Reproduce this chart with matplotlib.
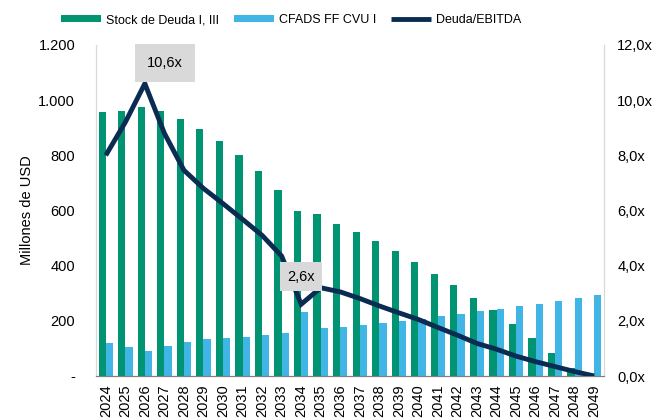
import matplotlib
matplotlib.use("Agg")
import matplotlib.pyplot as plt
import numpy as np
from matplotlib.ticker import FuncFormatter, FixedLocator

years = [str(y) for y in range(2024, 2050)]
stock_deuda = [958, 961, 975, 961, 931, 896, 851, 800, 742, 674, 598, 587, 551, 522,
               488, 452, 412, 371, 330, 284, 238, 189, 137, 82, 29, 0]
cfads = [118, 104, 91, 109, 123, 133, 137, 143, 149, 155, 232, 173, 178, 185,
         192, 201, 207, 216, 225, 234, 243, 253, 262, 272, 284, 294]
deuda_ebitda = [8.0, 9.2, 10.6, 8.8, 7.46, 6.8, 6.25, 5.68, 5.1, 4.35, 2.6, 3.2, 3.05, 2.81,
                2.54, 2.29, 2.05, 1.76, 1.48, 1.18, 0.97, 0.72, 0.52, 0.34, 0.16, 0.0]

plt.rcParams['font.family'] = ['Liberation Sans', 'DejaVu Sans']

GREEN = '#009473'
BLUE = '#41b6e6'
NAVY = '#0b2c52'

fig = plt.figure(figsize=(6.67, 4.19), dpi=100)
ax = fig.add_axes([96/667, 1-376/419, 508/667, 331/419])
ax2 = ax.twinx()

x = np.arange(len(years))
w = 0.37
ax.bar(x - w/2, stock_deuda, width=w, color=GREEN, label='Stock de Deuda I, III', zorder=2)
ax.bar(x + w/2, cfads, width=w, color=BLUE, label='CFADS FF CVU I', zorder=2)
ax2.plot(x, deuda_ebitda, color=NAVY, lw=3.5, label='Deuda/EBITDA', zorder=3,
         solid_joinstyle='miter', solid_capstyle='butt')

ax.set_xlim(-0.5, len(years) - 0.5)
ax.set_ylim(0, 1200)
ax2.set_ylim(0, 12)
ax.set_xticks(x)
ax.set_xticklabels(years, rotation=90, fontsize=10.5)
ax.yaxis.set_major_locator(FixedLocator(np.arange(0, 1201, 200)))
ax.yaxis.set_major_formatter(FuncFormatter(lambda v, p: '-' if v == 0 else f'{int(v):,}'.replace(',', '.')))
ax2.yaxis.set_major_locator(FixedLocator(np.arange(0, 12.1, 2)))
ax2.yaxis.set_major_formatter(FuncFormatter(lambda v, p: f'{v:.1f}x'.replace('.', ',')))
ax.tick_params(axis='y', length=0, labelsize=10.5, pad=15)
ax2.tick_params(axis='y', length=0, labelsize=10.5, pad=9.5)
ax.tick_params(axis='x', length=0, pad=6)
ax.set_ylabel('Millones de USD', fontsize=10.5, labelpad=3)

for a in (ax, ax2):
    a.spines['top'].set_visible(False)
    a.spines['left'].set_color('#d9d9d9')
    a.spines['right'].set_color('#d9d9d9')
    a.spines['bottom'].set_color('#7f7f7f')
ax2.set_zorder(ax.get_zorder() + 1)
ax2.patch.set_visible(False)

ax2.text(3.03, 11.35, '10,6x', ha='center', va='center', fontsize=10.5, zorder=5,
         bbox=dict(boxstyle='square,pad=0.8', fc='#d9d9d9', ec='none'))
ax2.text(10.0, 3.6, '2,6x', ha='center', va='center', fontsize=10.5, zorder=5,
         bbox=dict(boxstyle='square,pad=0.5', fc='#d9d9d9', ec='none'))

h1, l1 = ax.get_legend_handles_labels()
h2, l2 = ax2.get_legend_handles_labels()
fig.legend(h1 + h2, l1 + l2, loc='center', bbox_to_anchor=(0.437, 0.952), ncol=3,
           frameon=False, fontsize=9, handlelength=3.2, handleheight=0.55,
           columnspacing=1.2, handletextpad=0.4)

fig.savefig('out.png', dpi=100)
